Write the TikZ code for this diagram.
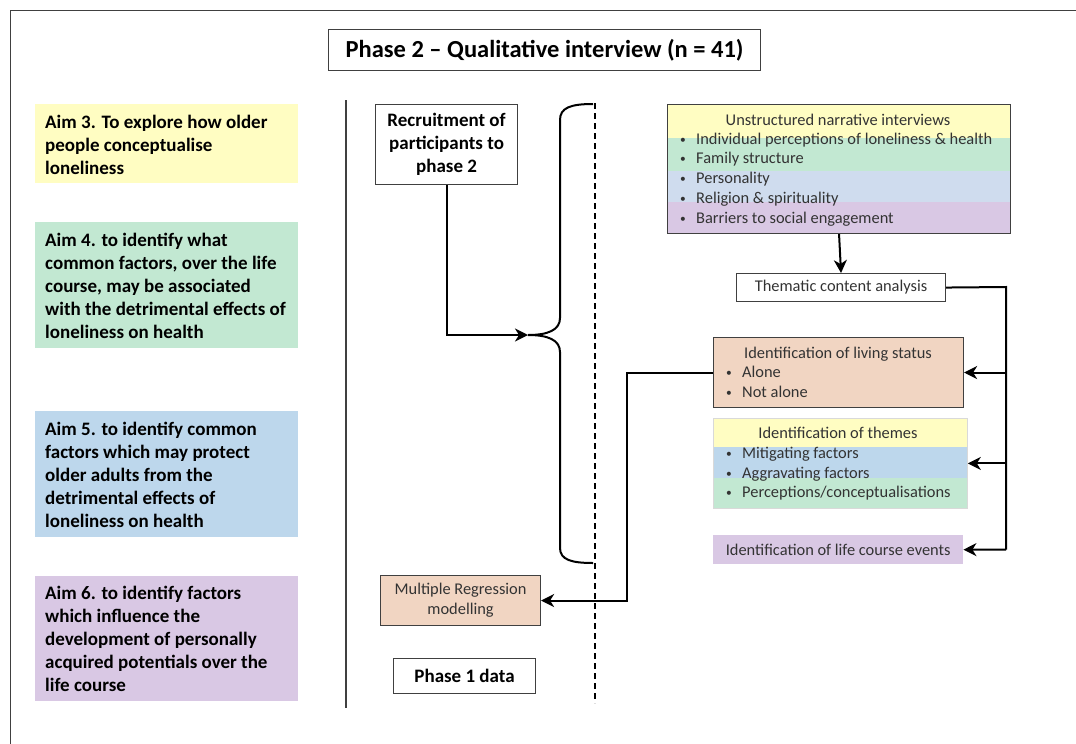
\documentclass[tikz,border=0pt]{standalone}
\usepackage{fontspec}
\setmainfont{Carlito}
\usetikzlibrary{arrows.meta,calc}

\definecolor{aimyellow}{HTML}{FFFDC2}
\definecolor{aimgreen}{HTML}{C2E8D2}
\definecolor{aimblue}{HTML}{BDD7EC}
\definecolor{bandblue}{HTML}{CFDCEE}
\definecolor{aimpurple}{HTML}{D9C8E4}
\definecolor{peach}{HTML}{F1D5C2}
\definecolor{framegray}{HTML}{404040}
\definecolor{textgray}{HTML}{333333}

\tikzset{
  aimbox/.style={draw=none, minimum width=263pt, inner sep=0pt, anchor=north west},
  aimtext/.style={anchor=west, align=left, inner sep=0pt,
    font=\bfseries\fontsize{19}{23}\selectfont},
  plainbox/.style={draw=framegray, line width=1.1pt, inner sep=0pt, anchor=north west},
  boldtext/.style={align=center, inner sep=0pt, font=\bfseries\fontsize{19}{23}\selectfont},
  itemtext/.style={anchor=base west, inner sep=0pt, text=textgray,
    font=\fontsize{16.4}{20}\selectfont},
  headtext/.style={anchor=base, inner sep=0pt, text=textgray,
    font=\fontsize{16.4}{20}\selectfont},
  conn/.style={line width=2pt, draw=black},
  arrow/.style={conn, -{Stealth[length=13pt, width=13pt, inset=4pt]}},
}
\newcommand{\bul}{\makebox[16pt][l]{\raisebox{0.18ex}{\scalebox{0.7}{\textbullet}}}}

\begin{document}
\begin{tikzpicture}[x=1pt, y=-1pt]
\useasboundingbox (0,0) rectangle (1076,744);

% outer frame
\draw[framegray, line width=1pt] (10,744) -- (10,10) -- (1076,10);

% heading
\node[plainbox, minimum width=432pt, minimum height=41pt] (title) at (328,29) {};
\node[font=\bfseries\fontsize{24.5}{28}\selectfont, inner sep=0pt] (titletext) at (title.center) {Phase 2 -- Qualitative interview (n = 41)};

% aims column
\node[aimbox, fill=aimyellow, minimum height=79pt] (aim3box) at (35,104) {};
\node[aimtext] (aim3) at (45,145) {Aim 3. To explore how older\\people conceptualise\\loneliness};

\node[aimbox, fill=aimgreen, minimum height=126pt] (aim4box) at (35,222) {};
\node[aimtext] (aim4) at (45,286) {Aim 4. to identify what\\common factors, over the life\\course, may be associated\\with the detrimental effects of\\loneliness on health};

\node[aimbox, fill=aimblue, minimum height=126pt] (aim5box) at (35,411) {};
\node[aimtext] (aim5) at (45,475) {Aim 5. to identify common\\factors which may protect\\older adults from the\\detrimental effects of\\loneliness on health};

\node[aimbox, fill=aimpurple, minimum height=125pt] (aim6box) at (35,576) {};
\node[aimtext] (aim6) at (45,639) {Aim 6. to identify factors\\which influence the\\development of personally\\acquired potentials over the\\life course};

% separators
\draw[framegray, line width=1.6pt] (346,100) -- (346,708);
\draw[black, line width=1.3pt, dash pattern=on 6pt off 4pt] (595,103) -- (595,703);

% recruitment and brace
\node[plainbox, minimum width=142pt, minimum height=80pt] (recruit) at (375,104) {};
\node[boldtext] (recruittext) at (recruit.center) {Recruitment of\\participants to\\phase 2};

\coordinate (bracetip) at (528,335);
\draw[line width=2pt] (593,104) .. controls (570,104) and (560,108) .. (560,120)
  -- (560,318) .. controls (560,330) and (548,335) .. (bracetip)
  .. controls (548,335) and (560,340) .. (560,352)
  -- (560,548) .. controls (560,560) and (572,563) .. (593,563);
\draw[arrow] (recruit.south) |- (bracetip);

% unstructured interviews
\fill[aimyellow] (667,104) rectangle (1011,138);
\fill[aimgreen]  (667,138) rectangle (1011,171);
\fill[bandblue]  (667,171) rectangle (1011,202);
\fill[aimpurple] (667,202) rectangle (1011,233);
\node[plainbox, minimum width=343pt, minimum height=129pt] (interviews) at (667,104) {};
\node[headtext] (ivhead) at (838,125.5) {Unstructured narrative interviews};
\node[itemtext] (iv1) at (680,144.5) {\bul Individual perceptions of loneliness \& health};
\node[itemtext] (iv2) at (680,163.5) {\bul Family structure};
\node[itemtext] (iv3) at (680,183.5) {\bul Personality};
\node[itemtext] (iv4) at (680,203.5) {\bul Religion \& spirituality};
\node[itemtext] (iv5) at (680,223.5) {\bul Barriers to social engagement};

% thematic analysis
\node[plainbox, minimum width=209pt, minimum height=28pt] (thematic) at (736,273) {};
\node[headtext, anchor=center] (thematictext) at (thematic.center) {Thematic content analysis};
\draw[arrow] (interviews.south) -- (thematic.north);

% living status
\node[plainbox, fill=peach, minimum width=250pt, minimum height=70pt] (living) at (713,337) {};
\node[headtext] (livinghead) at (838,358.5) {Identification of living status};
\node[itemtext] (living1) at (726,377.5) {\bul Alone};
\node[itemtext] (living2) at (726,397.5) {\bul Not alone};

% themes
\fill[aimyellow] (713,418) rectangle (967,447);
\fill[aimblue]   (713,447) rectangle (967,478);
\fill[aimgreen]  (713,478) rectangle (967,508);
\node[draw=black!15, line width=0.8pt, inner sep=0pt, anchor=north west,
  minimum width=254pt, minimum height=90pt] (themes) at (713,418) {};
\node[headtext] (themeshead) at (838,438.5) {Identification of themes};
\node[itemtext] (themes1) at (726,458.5) {\bul Mitigating factors};
\node[itemtext] (themes2) at (726,478.5) {\bul Aggravating factors};
\node[itemtext] (themes3) at (726,497.5) {\bul Perceptions/conceptualisations};

% life course events
\node[fill=aimpurple, inner sep=0pt, anchor=north west, minimum width=250pt,
  minimum height=29pt] (events) at (713,535) {};
\node[headtext, anchor=center] (eventstext) at (events.center) {Identification of life course events};

% branching rail
\coordinate (railtop) at (1006,287);
\coordinate (railbot) at (1006,549.5);
\draw[conn] (thematic.east) -- (railtop) -- (railbot);
\draw[arrow] (railtop |- living.east) -- (living.east);
\draw[arrow] (railtop |- themes.east) -- (themes.east);
\draw[arrow] (railbot) -- (events.east);

% regression and phase 1
\node[plainbox, fill=peach, minimum width=160pt, minimum height=50pt] (regression) at (380,575) {};
\node[headtext, anchor=center, align=center] (regressiontext) at (regression.center) {Multiple Regression\\modelling};
\coordinate (elbow) at (627,480);
\draw[arrow] (living.west) -| (elbow) |- (regression.east);

\node[plainbox, minimum width=142pt, minimum height=35pt] (phase1) at (393,658) {};
\node[boldtext] (phase1text) at (phase1.center) {Phase 1 data};

\end{tikzpicture}
\end{document}
